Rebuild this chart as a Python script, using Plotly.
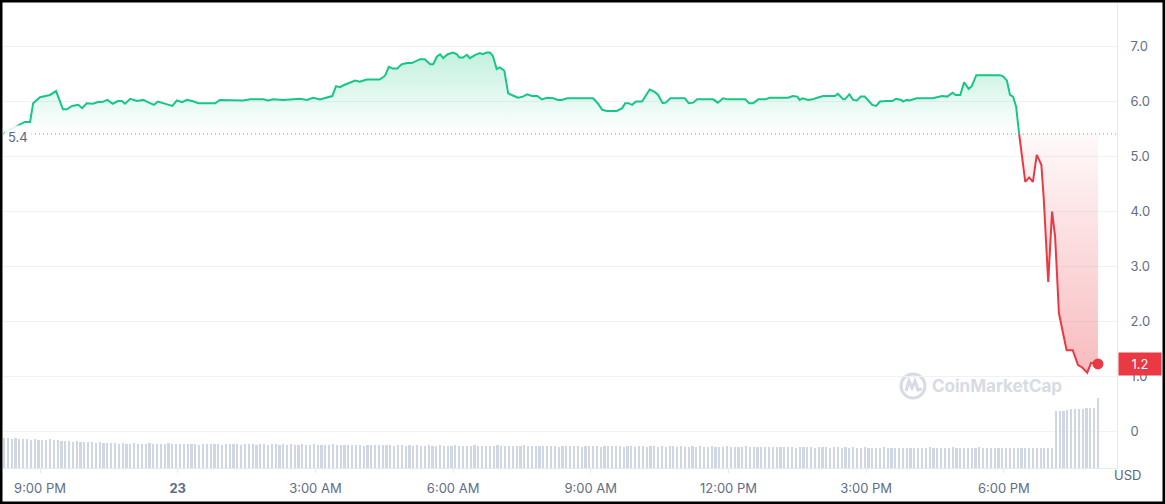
import pandas as pd
import plotly.graph_objects as go

# ---------------- data ----------------
START = pd.Timestamp("2023-05-22 20:00")   # reference instant (minutes below are counted from here)

price_minutes = [
    13, 40, 47, 51, 60, 73, 81, 90, 95, 102, 110, 115, 121, 129, 136, 141, 148, 155, 162, 167,
    171, 178, 187, 195, 201, 204, 209, 214, 223, 233, 239, 246, 252, 259, 267, 289, 295, 318, 325, 335,
    352, 358, 365, 378, 396, 400, 409, 417, 426, 435, 442, 447, 452, 459, 465, 472, 478, 487, 504, 511,
    516, 521, 527, 533, 540, 546, 557, 563, 570, 574, 579, 583, 587, 593, 600, 605, 608, 613, 618, 622,
    629, 635, 639, 644, 648, 652, 657, 661, 667, 672, 678, 685, 691, 697, 703, 710, 716, 723, 731, 737,
    742, 749, 783, 789, 795, 801, 814, 821, 825, 829, 834, 839, 847, 851, 857, 864, 868, 874, 878, 884,
    903, 908, 914, 919, 940, 946, 953, 959, 982, 987, 992, 999, 1008, 1014, 1038, 1044, 1050, 1053, 1057, 1064,
    1070, 1076, 1084, 1099, 1103, 1110, 1112, 1118, 1123, 1128, 1133, 1138, 1142, 1148, 1153, 1158, 1167, 1174, 1179, 1186,
    1188, 1193, 1197, 1206, 1227, 1239, 1246, 1253, 1257, 1263, 1268, 1274, 1278, 1284, 1315, 1319, 1324, 1328, 1332, 1336,
    1338, 1340, 1344, 1348, 1353, 1358, 1363, 1369, 1372, 1378, 1383, 1387, 1392, 1402, 1410, 1417, 1422, 1429, 1434, 1438,
    1443,
]
price_values = [
    5.42, 5.62, 5.62, 5.96, 6.07, 6.11, 6.18, 5.85, 5.85, 5.91, 5.93, 5.87, 5.96, 5.95, 5.98, 5.98, 6.02, 5.95, 6.00, 6.00,
    5.95, 6.04, 6.00, 6.02, 5.98, 5.96, 5.93, 5.99, 5.95, 5.91, 6.01, 5.98, 6.02, 6.00, 5.96, 5.96, 6.02, 6.02, 6.01, 6.03,
    6.03, 6.01, 6.03, 6.02, 6.03, 6.04, 6.02, 6.06, 6.03, 6.06, 6.09, 6.27, 6.25, 6.30, 6.33, 6.37, 6.35, 6.39, 6.39, 6.46,
    6.62, 6.59, 6.59, 6.67, 6.69, 6.69, 6.76, 6.76, 6.67, 6.67, 6.81, 6.85, 6.78, 6.85, 6.88, 6.85, 6.79, 6.79, 6.84, 6.78,
    6.84, 6.87, 6.85, 6.88, 6.88, 6.82, 6.58, 6.61, 6.55, 6.14, 6.10, 6.06, 6.08, 6.12, 6.09, 6.09, 6.03, 6.06, 6.05, 6.02,
    6.02, 6.05, 6.05, 5.96, 5.84, 5.82, 5.82, 5.87, 5.96, 5.96, 5.93, 5.99, 5.99, 6.08, 6.21, 6.16, 6.11, 5.96, 5.97, 6.05,
    6.05, 5.96, 5.97, 6.03, 6.03, 5.97, 6.05, 6.03, 6.03, 5.96, 5.96, 6.03, 6.03, 6.06, 6.06, 6.09, 6.08, 6.02, 6.05, 6.02,
    6.03, 6.06, 6.09, 6.09, 6.13, 6.03, 6.03, 6.12, 6.02, 6.01, 6.08, 6.08, 6.02, 5.93, 5.91, 5.99, 6.00, 6.00, 6.04, 6.02,
    5.99, 6.02, 6.01, 6.05, 6.05, 6.09, 6.08, 6.15, 6.11, 6.11, 6.34, 6.22, 6.27, 6.47, 6.47, 6.45, 6.37, 6.11, 6.08, 5.90,
    5.65, 5.40, 4.93, 4.53, 4.61, 4.53, 5.02, 4.84, 4.26, 2.71, 3.99, 3.53, 2.14, 1.47, 1.47, 1.20, 1.16, 1.06, 1.24, 1.23,
    1.22,
]
baseline_value = 5.4
last_price_label = "1.2"

volume_first_minute = 13
volume_step_minutes = 5
volume_values = [
    30, 30, 29, 30, 29,
    29, 29, 28, 29, 28, 28, 28, 29, 28, 28,
    27, 27, 27, 26, 27, 26, 26, 26, 26, 25, 26, 25, 25, 25,
    25, 24, 25, 24, 24, 25, 24, 24, 24, 25, 24, 24, 24, 24, 25, 24, 24, 24, 24, 24,
    24, 24, 23, 24, 24, 24, 24, 24, 23, 24, 24, 24, 24, 23, 24, 24, 24, 23, 24, 24,
    23, 24, 24, 23, 24, 23, 24, 23, 23, 24, 23, 23, 24, 23, 23, 23, 23, 24, 23, 23,
    23, 23, 23, 23, 23, 22, 23, 23, 23, 23, 23, 23,
    23, 22, 23, 23, 22, 23, 22, 23, 22, 22, 23, 22, 22, 23, 22, 22, 22, 23, 22, 22,
    22, 22, 23, 22, 22, 22, 22, 22, 23, 22, 22, 22, 22, 22, 22, 23, 22, 22, 22, 22,
    22, 22, 22, 22, 21, 22, 22, 22, 22, 22, 21, 22, 22, 22, 22, 21, 22, 22, 22, 22,
    22, 21, 22, 22, 21, 22, 22, 21, 22, 22, 21, 22, 21, 22, 22, 21, 22, 21, 21, 22,
    21, 22, 21, 21, 22, 21, 21, 21, 22, 21, 21, 21, 21, 22, 21, 21, 21, 21, 21, 21,
    21, 21, 21, 21, 21, 21, 20, 21, 21, 21, 21, 20, 21, 21, 21, 20, 21, 21, 20, 21,
    20, 21, 20, 20, 21, 20, 20, 20, 20, 21, 20, 20, 20, 20, 20, 20, 20, 20, 20, 20,
    20, 21, 20, 20, 20, 20, 20, 21, 20, 20, 20, 20, 20, 20, 21, 20, 20, 20, 20, 20,
    20, 20, 20, 20, 20, 20, 20, 20, 20, 20, 20, 20, 20, 20,
    57, 57, 57, 58, 59, 59, 59, 59, 60, 60, 60, 70,
]

x_tick_hours = [21, 24, 27, 30, 33, 36, 39, 42]     # hours after midnight of START's day
x_tick_labels = ["9:00 PM", "<b>23</b>", "3:00 AM", "6:00 AM", "9:00 AM", "12:00 PM", "3:00 PM", "6:00 PM"]
y_tick_values = [0, 1, 2, 3, 4, 5, 6, 7]
y_tick_labels = ["0", "1.0", "2.0", "3.0", "4.0", "5.0", "6.0", "7.0"]

# ---------------- style ----------------
GREEN = "#16c784"
RED = "#ea3943"
GRID = "#eff2f5"
LABEL = "#616e85"
BAR = "#cfd6e4"
FONT = "Inter"

W, H = 1165, 504
ML, MR, MT, MB = 3, 48, 3, 36
PW, PH = W - ML - MR, H - MT - MB

times = [START + pd.Timedelta(minutes=m) for m in price_minutes]
vol_times = [START + pd.Timedelta(minutes=volume_first_minute + volume_step_minutes * i)
             for i in range(len(volume_values))]
day0 = START.normalize()
x_tick_vals = [day0 + pd.Timedelta(hours=h) for h in x_tick_hours]

# split at first point that reaches the baseline from above
k = next(i for i, v in enumerate(price_values) if i > 0 and v <= baseline_value)
g_t, g_v = times[:k + 1], price_values[:k + 1]
r_t, r_v = times[k:], price_values[k:]

fig = go.Figure()

fig.add_trace(go.Bar(
    x=vol_times, y=volume_values, yaxis="y2", marker_color=BAR, marker_line_width=0,
    width=170000, hoverinfo="skip", showlegend=False,
))

fig.add_trace(go.Scatter(
    x=g_t + [g_t[-1], g_t[0]], y=g_v + [baseline_value, baseline_value],
    fill="toself", mode="lines", line=dict(width=0),
    fillgradient=dict(type="vertical",
                      colorscale=[[0, "rgba(22,199,132,0.0)"], [1, "rgba(22,199,132,0.26)"]]),
    hoverinfo="skip", showlegend=False,
))
fig.add_trace(go.Scatter(
    x=r_t + [r_t[-1], r_t[0]], y=r_v + [baseline_value, baseline_value],
    fill="toself", mode="lines", line=dict(width=0),
    fillgradient=dict(type="vertical",
                      colorscale=[[0, "rgba(234,57,67,0.34)"], [1, "rgba(234,57,67,0.03)"]]),
    hoverinfo="skip", showlegend=False,
))
fig.add_trace(go.Scatter(x=g_t, y=g_v, mode="lines", line=dict(color=GREEN, width=2),
                         showlegend=False))
fig.add_trace(go.Scatter(x=r_t, y=r_v, mode="lines", line=dict(color=RED, width=2),
                         showlegend=False))
fig.add_trace(go.Scatter(x=[r_t[-1]], y=[r_v[-1]], mode="markers",
                         marker=dict(color=RED, size=11), showlegend=False))

x_lo = START + pd.Timedelta(minutes=11.6)
x_hi = START + pd.Timedelta(minutes=1467.9)

fig.update_layout(
    width=W, height=H,
    margin=dict(l=ML, r=MR, t=MT, b=MB, pad=0),
    paper_bgcolor="white", plot_bgcolor="white",
    font=dict(family=FONT, size=13, color=LABEL),
    bargap=0,
    xaxis=dict(
        type="date", range=[x_lo, x_hi], tickvals=x_tick_vals, ticktext=x_tick_labels,
        showgrid=False, zeroline=False, showline=True, linecolor="#e6e9ee", linewidth=1,
        ticks="outside", ticklen=4, tickcolor="#e6e9ee", tickfont=dict(size=13, color=LABEL),
        ticklabelstandoff=4, automargin=False, fixedrange=True,
    ),
    yaxis=dict(
        side="right", range=[-0.6727, 7.7818], tickvals=y_tick_values, ticktext=y_tick_labels,
        showgrid=True, gridcolor=GRID, gridwidth=1, zeroline=False,
        showline=True, linecolor="#e6e9ee", linewidth=1, ticks="",
        tickfont=dict(size=13, color=LABEL), ticklabelstandoff=10, automargin=False,
    ),
    yaxis2=dict(overlaying="y", range=[0, PH], visible=False),
    shapes=[
        dict(type="line", xref="paper", yref="y", x0=0, x1=1, y0=baseline_value, y1=baseline_value,
             line=dict(color="#8a93a6", width=1, dash="1px,3px"), layer="above"),
        # CoinMarketCap watermark logo (ring + wave)
        dict(type="circle", xref="paper", yref="paper", xsizemode="pixel", ysizemode="pixel",
             xanchor=(913 - ML) / PW, yanchor=1 - (386 - MT) / PH,
             x0=-12, x1=12, y0=-12, y1=12, line=dict(color="#d6dbe5", width=3), layer="below"),
        dict(type="path", xref="paper", yref="paper", xsizemode="pixel", ysizemode="pixel",
             xanchor=(913 - ML) / PW, yanchor=1 - (386 - MT) / PH,
             path="M -7,-5 L -4,5 L -1,-2 L 2,5 L 5,-4 L 9,-3",
             line=dict(color="#d6dbe5", width=3), layer="below"),
        # outer frame
        dict(type="rect", xref="paper", yref="paper",
             x0=-ML / PW, x1=(W - ML) / PW, y0=-(H - MT - PH) / PH, y1=1 + MT / PH,
             line=dict(color="black", width=5), layer="above"),
    ],
    annotations=[
        dict(text=f"{baseline_value:.1f}", xref="paper", yref="y", x=0, y=baseline_value,
             xanchor="left", yanchor="middle", xshift=1, yshift=-3, showarrow=False,
             font=dict(size=13, color="#58667e"), bgcolor="rgba(255,255,255,0.85)", borderpad=3),
        dict(text=last_price_label, xref="paper", yref="y", x=1, y=r_v[-1],
             xanchor="left", yanchor="middle", xshift=1, showarrow=False,
             font=dict(size=13, color="white"), bgcolor=RED, width=38, height=18, borderpad=2),
        dict(text="USD", xref="paper", yref="paper", x=(1127 - ML) / PW, y=1 - (475 - MT) / PH,
             xanchor="center", yanchor="middle", showarrow=False,
             font=dict(size=13, color="#58667e")),
        dict(text="<b>CoinMarketCap</b>", xref="paper", yref="paper", x=(930 - ML) / PW,
             y=1 - (386 - MT) / PH, xanchor="left", yanchor="middle", showarrow=False,
             font=dict(size=17, color="#d6dbe5")),
    ],
)

fig.write_html("out.html", config={"displayModeBar": False},
               post_script="document.body.style.margin='0';document.body.style.overflow='hidden';")
